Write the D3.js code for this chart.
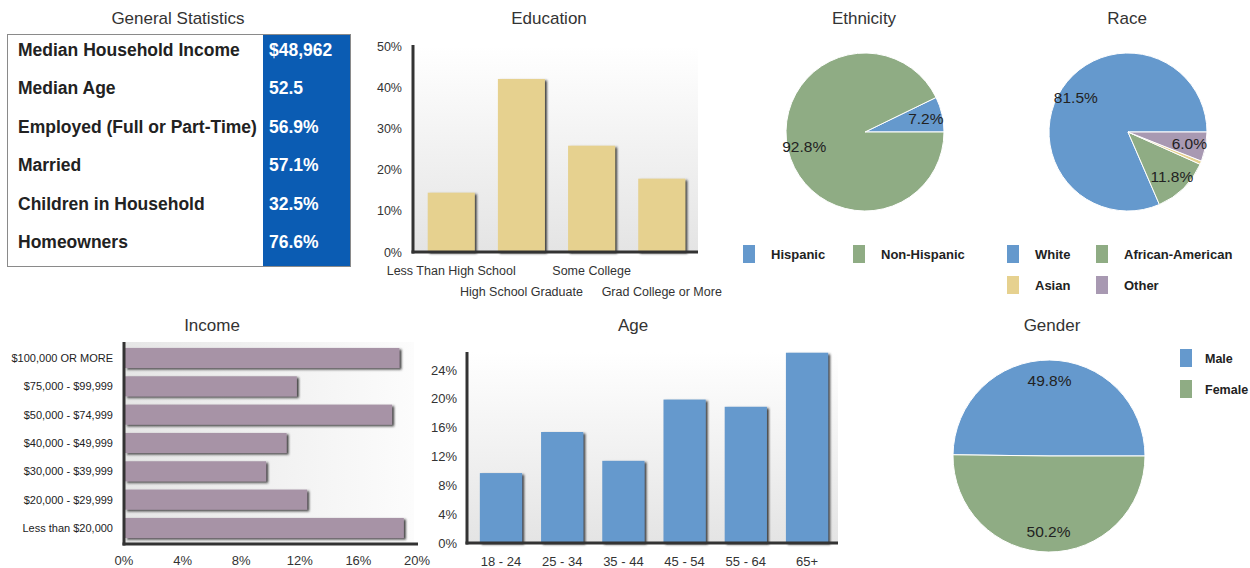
<!DOCTYPE html>
<html>
<head>
<meta charset="utf-8">
<script src="https://cdn.jsdelivr.net/npm/d3@7"></script>
<style>
  body { margin: 0; background: #fff; }
  svg { font-family: "Liberation Sans", Arial, sans-serif; }
</style>
</head>
<body>
<svg id="chart" width="1250" height="568"></svg>
<script>
// ---- data ----
const statLabels = ['Median Household Income', 'Median Age', 'Employed (Full or Part-Time)', 'Married', 'Children in Household', 'Homeowners'];
const statValues = ['$48,962', '52.5', '56.9%', '57.1%', '32.5%', '76.6%'];

const eduCats = ['Less Than High School', 'High School Graduate', 'Some College', 'Grad College or More'];
const eduValues = [14.4, 42.0, 25.8, 17.8];
const eduTicks = [0, 10, 20, 30, 40, 50];

const ethCats = ['Hispanic', 'Non-Hispanic'];
const ethValues = [7.2, 92.8];

const raceCats = ['White', 'African-American', 'Asian', 'Other'];
const raceValues = [81.5, 11.8, 0.7, 6.0];

const incomeCats = ['$100,000 OR MORE', '$75,000 - $99,999', '$50,000 - $74,999', '$40,000 - $49,999', '$30,000 - $39,999', '$20,000 - $29,999', 'Less than $20,000'];
const incomeValues = [18.8, 11.8, 18.3, 11.1, 9.7, 12.5, 19.1];
const incomeTicks = [0, 4, 8, 12, 16, 20];

const ageCats = ['18 - 24', '25 - 34', '35 - 44', '45 - 54', '55 - 64', '65+'];
const ageValues = [9.7, 15.4, 11.4, 19.9, 18.9, 26.4];
const ageTicks = [0, 4, 8, 12, 16, 20, 24];

const genderCats = ['Male', 'Female'];
const genderValues = [49.8, 50.2];

// ---- colours ----
const BLUE = '#6599cd';
const GREEN = '#8fac84';
const TAN = '#e6d18f';
const MAUVE = '#a793a6';
const PURPLE = '#a899b2';
const TABLE_BLUE = '#0b5cb3';
const INK = '#222';

const svg = d3.select('#chart');
const defs = svg.append('defs');

let vgrad = defs.append('linearGradient').attr('id', 'vgrad')
  .attr('x1', 0).attr('y1', 0).attr('x2', 0).attr('y2', 1);
vgrad.append('stop').attr('offset', '0%').attr('stop-color', '#ffffff');
vgrad.append('stop').attr('offset', '100%').attr('stop-color', '#e4e4e4');

let hgrad = defs.append('linearGradient').attr('id', 'hgrad')
  .attr('x1', 0).attr('y1', 0).attr('x2', 1).attr('y2', 0);
hgrad.append('stop').attr('offset', '0%').attr('stop-color', '#e6e6e6');
hgrad.append('stop').attr('offset', '100%').attr('stop-color', '#fcfcfc');

defs.append('filter').attr('id', 'shadow')
  .attr('x', '-10%').attr('y', '-10%').attr('width', '130%').attr('height', '130%')
  .append('feDropShadow')
    .attr('dx', 2).attr('dy', 1.5).attr('stdDeviation', 0.8)
    .attr('flood-color', '#222').attr('flood-opacity', 0.85);

function title(x, y, text) {
  svg.append('text')
    .attr('x', x).attr('y', y)
    .attr('text-anchor', 'middle')
    .attr('font-size', 17)
    .attr('fill', '#333')
    .text(text);
}

function axisLine(x1, y1, x2, y2) {
  svg.append('line')
    .attr('x1', x1).attr('y1', y1).attr('x2', x2).attr('y2', y2)
    .attr('stroke', '#333').attr('stroke-width', 3);
}

// ---- General Statistics table ----
title(178, 24, 'General Statistics');

svg.append('rect')
  .attr('x', 7.5).attr('y', 34.5).attr('width', 343).attr('height', 232)
  .attr('fill', '#fff').attr('stroke', '#8a8a8a');
svg.append('rect')
  .attr('x', 263).attr('y', 35).attr('width', 87).attr('height', 231)
  .attr('fill', TABLE_BLUE);

let rowY = d3.scalePoint().domain(statLabels).range([50, 242]);

svg.append('g').selectAll('text').data(statLabels).join('text')
  .attr('x', 18).attr('y', d => rowY(d) + 6)
  .attr('font-size', 17.5).attr('font-weight', 'bold').attr('fill', INK)
  .text(d => d);

svg.append('g').selectAll('text').data(statValues).join('text')
  .attr('x', 269).attr('y', (d, i) => rowY(statLabels[i]) + 6)
  .attr('font-size', 17.5).attr('font-weight', 'bold').attr('fill', '#fff')
  .text(d => d);

// ---- Education ----
title(549, 24, 'Education');
(function () {
  let x = d3.scaleBand().domain(eduCats).range([413, 700]).paddingInner(0.33).paddingOuter(0.21);
  let y = d3.scaleLinear().domain([0, 50]).range([252, 46]);

  svg.append('rect').attr('x', 413).attr('y', 46).attr('width', 285).attr('height', 206)
    .attr('fill', 'url(#vgrad)');

  svg.append('g').selectAll('rect').data(eduValues).join('rect')
    .attr('x', (d, i) => x(eduCats[i]))
    .attr('y', d => y(d))
    .attr('width', x.bandwidth())
    .attr('height', d => y(0) - y(d))
    .attr('fill', TAN)
    .attr('filter', 'url(#shadow)');

  svg.append('g').selectAll('text').data(eduTicks).join('text')
    .attr('x', 402).attr('y', d => y(d) + 4.5)
    .attr('text-anchor', 'end').attr('font-size', 12.5).attr('fill', '#333')
    .text(d => d + '%');

  svg.append('g').selectAll('text').data(eduCats).join('text')
    .attr('x', d => x(d) + x.bandwidth() / 2)
    .attr('y', (d, i) => i % 2 === 0 ? 275 : 296)
    .attr('text-anchor', 'middle').attr('font-size', 12.5).attr('fill', '#333')
    .text(d => d);

  axisLine(413, 45, 413, 253.5);
  axisLine(411.5, 252, 698, 252);
})();

// ---- pies ----
function pieChart(cx, cy, r, cats, values, colors, labelMin) {
  let pie = d3.pie().sort(null)
    .startAngle(Math.PI / 2).endAngle(Math.PI / 2 - 2 * Math.PI);
  let arcs = pie(values);
  let arc = d3.arc().innerRadius(0).outerRadius(r);
  let labelArc = d3.arc().innerRadius(r * 0.79).outerRadius(r * 0.79);
  let g = svg.append('g').attr('transform', 'translate(' + cx + ',' + cy + ')');

  g.selectAll('path').data(arcs).join('path')
    .attr('d', arc)
    .attr('fill', (d, i) => colors[i])
    .attr('stroke', '#fff').attr('stroke-width', 1);

  g.selectAll('text').data(arcs.filter(d => d.data >= labelMin)).join('text')
    .attr('transform', d => 'translate(' + labelArc.centroid(d) + ')')
    .attr('text-anchor', 'middle').attr('dy', '0.36em')
    .attr('font-size', 15.5).attr('fill', INK)
    .text(d => d.data.toFixed(1) + '%');
}

function legend(items, colors, positions, fontSize, gap) {
  let g = svg.append('g');
  items.forEach((name, i) => {
    let p = positions[i];
    g.append('rect').attr('x', p[0]).attr('y', p[1] - 9).attr('width', 12).attr('height', 18)
      .attr('fill', colors[i]);
    g.append('text').attr('x', p[0] + gap).attr('y', p[1] + 4.5)
      .attr('font-size', fontSize).attr('font-weight', 'bold').attr('fill', INK)
      .text(name);
  });
}

title(864, 24, 'Ethnicity');
pieChart(865, 132, 79, ethCats, ethValues, [BLUE, GREEN], 1);
legend(ethCats, [BLUE, GREEN], [[743, 254], [853, 254]], 13, 28);

title(1127, 24, 'Race');
pieChart(1128, 132, 79, raceCats, raceValues, [BLUE, GREEN, TAN, PURPLE], 1);
legend(raceCats, [BLUE, GREEN, TAN, PURPLE], [[1007, 254], [1096, 254], [1007, 285], [1096, 285]], 13, 28);

title(1052, 331, 'Gender');
pieChart(1049, 456, 96, genderCats, genderValues, [BLUE, GREEN], 1);
legend(genderCats, [BLUE, GREEN], [[1180, 358], [1180, 389]], 12.5, 25);

// ---- Income ----
title(212, 331, 'Income');
(function () {
  let y = d3.scaleBand().domain(incomeCats).range([342, 544]).paddingInner(0.29).paddingOuter(0.21);
  let x = d3.scaleLinear().domain([0, 20]).range([124, 417]);

  svg.append('rect').attr('x', 124).attr('y', 342).attr('width', 290).attr('height', 202)
    .attr('fill', 'url(#hgrad)');

  svg.append('g').selectAll('rect').data(incomeValues).join('rect')
    .attr('x', x(0) + 1)
    .attr('y', (d, i) => y(incomeCats[i]))
    .attr('width', d => x(d) - x(0) - 1)
    .attr('height', y.bandwidth())
    .attr('fill', MAUVE)
    .attr('filter', 'url(#shadow)');

  svg.append('g').selectAll('text').data(incomeCats).join('text')
    .attr('x', 113).attr('y', d => y(d) + y.bandwidth() / 2 + 4)
    .attr('text-anchor', 'end').attr('font-size', 11).attr('fill', INK)
    .text(d => d);

  svg.append('g').selectAll('text').data(incomeTicks).join('text')
    .attr('x', d => x(d)).attr('y', 565)
    .attr('text-anchor', 'middle').attr('font-size', 13).attr('fill', '#333')
    .text(d => d + '%');

  axisLine(124, 342, 124, 545.5);
  axisLine(122.5, 544, 418, 544);
})();

// ---- Age ----
title(633, 331, 'Age');
(function () {
  let x = d3.scaleBand().domain(ageCats).range([467, 841]).paddingInner(0.31).paddingOuter(0.21);
  let y = d3.scaleLinear().domain([0, 26.5]).range([543, 352]);

  svg.append('rect').attr('x', 467).attr('y', 352).attr('width', 371).attr('height', 191)
    .attr('fill', 'url(#vgrad)');

  svg.append('g').selectAll('rect').data(ageValues).join('rect')
    .attr('x', (d, i) => x(ageCats[i]))
    .attr('y', d => y(d))
    .attr('width', x.bandwidth())
    .attr('height', d => y(0) - y(d))
    .attr('fill', BLUE)
    .attr('filter', 'url(#shadow)');

  svg.append('g').selectAll('text').data(ageTicks).join('text')
    .attr('x', 457).attr('y', d => y(d) + 4.5)
    .attr('text-anchor', 'end').attr('font-size', 13).attr('fill', '#333')
    .text(d => d + '%');

  svg.append('g').selectAll('text').data(ageCats).join('text')
    .attr('x', d => x(d) + x.bandwidth() / 2).attr('y', 566)
    .attr('text-anchor', 'middle').attr('font-size', 13).attr('fill', '#333')
    .text(d => d);

  axisLine(467, 352, 467, 544.5);
  axisLine(465.5, 543, 838, 543);
})();
</script>
</body>
</html>
